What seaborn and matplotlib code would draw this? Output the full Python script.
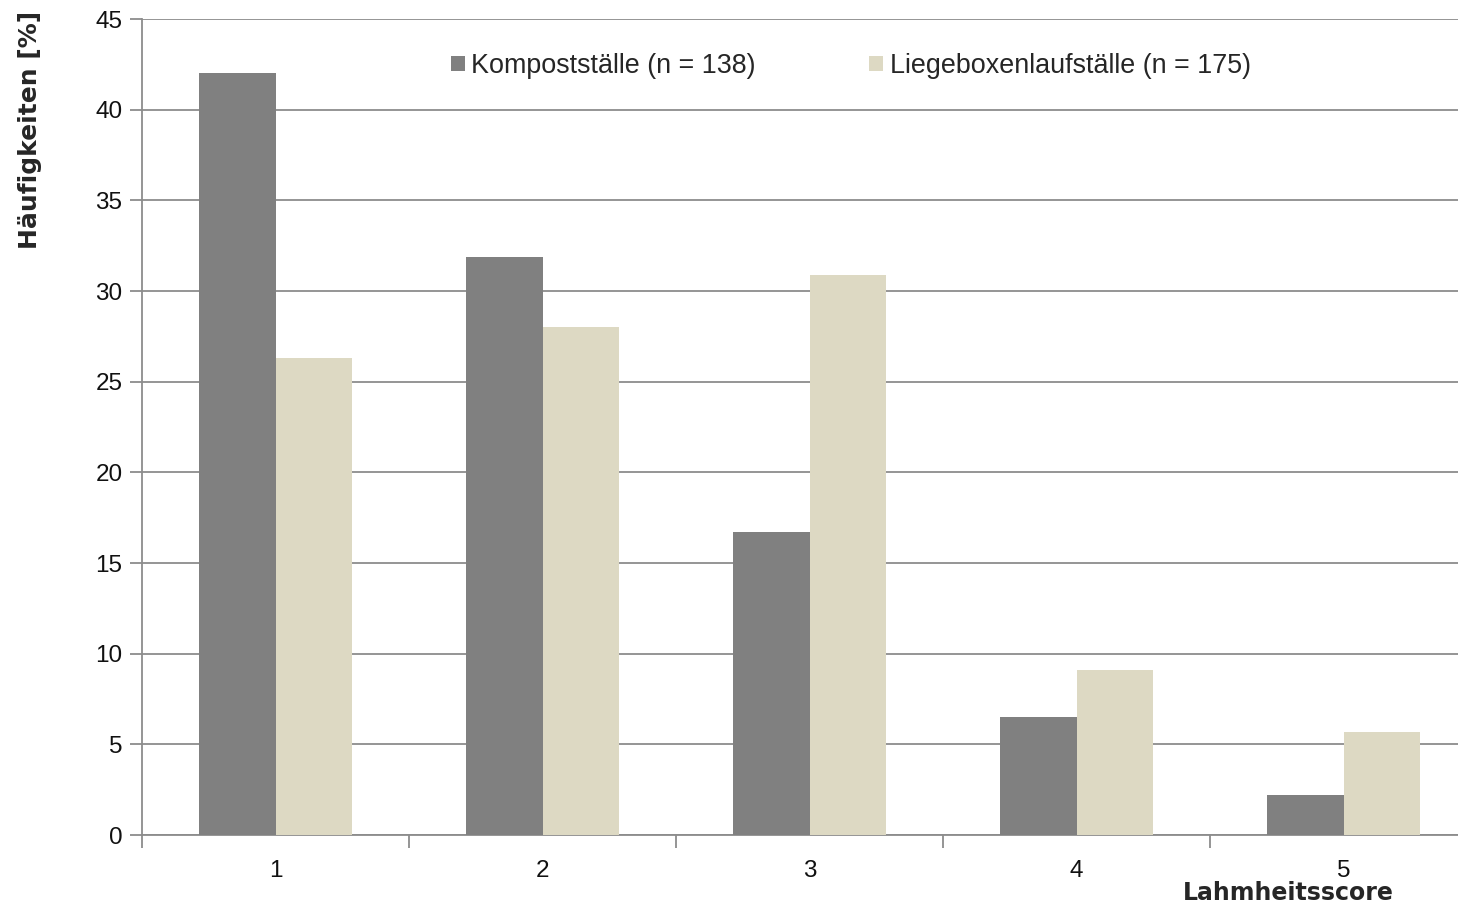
import matplotlib
matplotlib.use("Agg")
import matplotlib.pyplot as plt
import seaborn as sns
import pandas as pd
import numpy as np
from matplotlib.patches import Patch

scores = ["1", "2", "3", "4", "5"]
kompost = [42.0, 31.9, 16.7, 6.5, 2.2]
liegebox = [26.3, 28.0, 30.9, 9.1, 5.7]
series_names = ["Kompostställe (n = 138)", "Liegeboxenlaufställe (n = 175)"]
colors = ["#808080", "#DDD9C3"]

df = pd.DataFrame({
    "score": scores * 2,
    "value": kompost + liegebox,
    "group": [series_names[0]] * len(scores) + [series_names[1]] * len(scores),
})

sns.set_style("white")
plt.rcParams["font.family"] = ["Liberation Sans", "DejaVu Sans"]

fig = plt.figure(figsize=(14.58, 9.09), dpi=100)
ax = fig.add_axes([142 / 1458, 1 - 835 / 909, 1335 / 1458, (835 - 19) / 909])

sns.barplot(data=df, x="score", y="value", hue="group", palette=colors,
            width=0.57, gap=0, saturation=1, errorbar=None, legend=False, ax=ax,
            linewidth=0, zorder=3)

ax.set_xlim(-0.5, 4.5)
ax.set_ylim(0, 45)
ax.set_yticks(np.arange(0, 46, 5))
ax.yaxis.grid(True, color="#8C8C8C", linewidth=1.3, zorder=0)
ax.set_axisbelow(True)

for s in ["top", "right"]:
    ax.spines[s].set_visible(False)
for s in ["left", "bottom"]:
    ax.spines[s].set_color("#8C8C8C")
    ax.spines[s].set_linewidth(1.3)

ax.tick_params(axis="y", which="major", direction="out", length=9, width=1.3,
               color="#8C8C8C", labelsize=17.5, pad=5, left=True,
               labelcolor="#111111")
ax.tick_params(axis="x", which="major", length=0, labelsize=17.5, pad=18,
               labelcolor="#111111")
ax.set_xticks(np.arange(-0.5, 4.6, 1.0), minor=True)
ax.tick_params(axis="x", which="minor", direction="out", length=9, width=1.3,
               color="#8C8C8C", bottom=True)

ax.set_xlabel("")
ax.set_ylabel("Häufigkeiten [%]", fontsize=18, fontweight="bold",
              family=["DejaVu Sans"])
ax.yaxis.set_label_coords((42 - 142) / 1335, (835 - 130) / 816)
fig.text(1288 / 1458, 1 - 900 / 909, "Lahmheitsscore", fontsize=17,
         fontweight="bold", family=["DejaVu Sans"], ha="center", va="baseline")

handles = [Patch(facecolor=c, edgecolor="none") for c in colors]
fig.legend(handles, series_names, loc="center left",
           bbox_to_anchor=(451 / 1458, 1 - 66 / 909), ncol=2, frameon=False,
           fontsize=19.4, handlelength=0.52, handleheight=0.52,
           handletextpad=0.24, columnspacing=4.2, borderaxespad=0, borderpad=0)

fig.savefig("out.png", dpi=100, facecolor="white")
